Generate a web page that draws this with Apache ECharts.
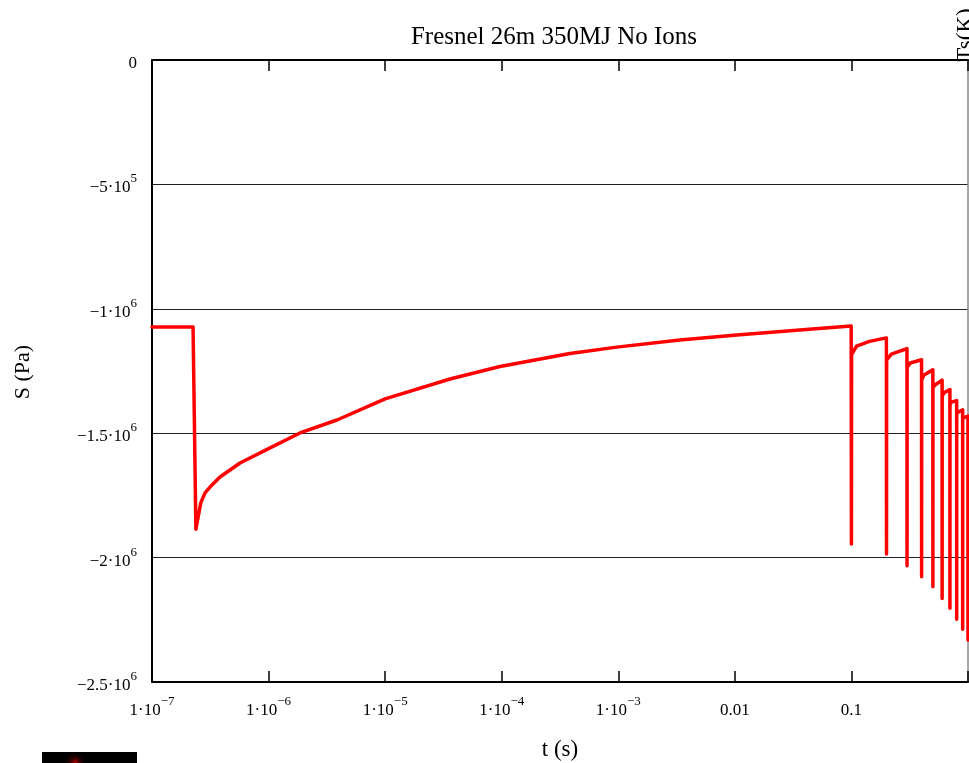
<!DOCTYPE html>
<html>
<head>
<meta charset="utf-8">
<title>Fresnel 26m 350MJ No Ions</title>
<script src="https://cdn.jsdelivr.net/npm/echarts@6/dist/echarts.min.js"></script>
<style>
  html, body { margin: 0; padding: 0; background: #ffffff; overflow: hidden; }
  #chart { width: 969px; height: 763px; }
</style>
</head>
<body>
<div id="chart"></div>
<script>
// Surface stress S (Pa) versus time t (s), log time axis.
const timeS = [
  1e-7, 2.25e-7, 2.38e-7, 2.62e-7, 2.85e-7, 3.27e-7, 3.83e-7, 5.69e-7,
  1.03e-6, 1.86e-6, 3.86e-6, 1.0e-5, 3.6e-5, 9.66e-5, 3.85e-4, 9.7e-4,
  3.37e-3, 0.0104, 0.036, 0.0995,
  0.1, 0.1, 0.1003, 0.1107, 0.1427, 0.1995,
  0.2, 0.2, 0.2005, 0.22, 0.2995,
  0.3, 0.3, 0.3005, 0.32, 0.3995,
  0.4, 0.4, 0.4005, 0.42, 0.4995,
  0.5, 0.5, 0.5005, 0.52, 0.5995,
  0.6, 0.6, 0.6005, 0.62, 0.6995,
  0.7, 0.7, 0.7005, 0.72, 0.7995,
  0.8, 0.8, 0.8005, 0.82, 0.8995,
  0.9, 0.9, 0.9005, 0.9995,
  1.0, 1.0
];
const stressPa = [
  -1.073e6, -1.073e6, -1.886e6, -1.780e6, -1.740e6, -1.708e6, -1.676e6, -1.620e6,
  -1.559e6, -1.499e6, -1.447e6, -1.362e6, -1.282e6, -1.232e6, -1.180e6, -1.154e6,
  -1.125e6, -1.105e6, -1.085e6, -1.069e6,
  -1.069e6, -1.945e6, -1.184e6, -1.150e6, -1.131e6, -1.117e6,
  -1.117e6, -1.986e6, -1.205e6, -1.182e6, -1.160e6,
  -1.160e6, -2.033e6, -1.235e6, -1.218e6, -1.205e6,
  -1.205e6, -2.077e6, -1.285e6, -1.266e6, -1.245e6,
  -1.245e6, -2.117e6, -1.318e6, -1.306e6, -1.287e6,
  -1.287e6, -2.164e6, -1.352e6, -1.338e6, -1.325e6,
  -1.325e6, -2.204e6, -1.385e6, -1.375e6, -1.369e6,
  -1.369e6, -2.248e6, -1.419e6, -1.411e6, -1.406e6,
  -1.406e6, -2.288e6, -1.439e6, -1.431e6,
  -1.431e6, -2.331e6
];

// Tick label text as [mantissa, exponent] pairs.
const xTickText = [
  ['1·10', '−7'], ['1·10', '−6'], ['1·10', '−5'], ['1·10', '−4'],
  ['1·10', '−3'], ['0.01', ''], ['0.1', ''], ['', '']
];
const yTickText = [
  ['−2.5·10', '6'], ['−2·10', '6'], ['−1.5·10', '6'],
  ['−1·10', '6'], ['−5·10', '5'], ['0', '']
];

const SERIF = '"Liberation Serif", "Times New Roman", serif';

function richLabel(pair) {
  if (!pair || !pair[0]) return '';
  return pair[1] ? '{m|' + pair[0] + '}{e|' + pair[1] + '}' : '{m|' + pair[0] + '}';
}

const rich = {
  m: { fontFamily: SERIF, fontSize: 17, color: '#000', lineHeight: 24, verticalAlign: 'bottom' },
  e: { fontFamily: SERIF, fontSize: 13, color: '#000', lineHeight: 12, verticalAlign: 'top' }
};

const chart = echarts.init(document.getElementById('chart'), null, { renderer: 'canvas', width: 969, height: 763 });

const xCommon = {
  type: 'log',
  logBase: 10,
  min: 1e-7,
  max: 1,
  splitLine: { show: false },
  axisLine: { show: true, onZero: false, lineStyle: { color: '#000', width: 2 } },
  axisTick: { show: true, inside: true, length: 11, lineStyle: { color: '#000', width: 1.5 } }
};

chart.setOption({
  backgroundColor: '#ffffff',
  animation: false,
  title: {
    text: 'Fresnel 26m 350MJ No Ions',
    left: 549,
    top: 20,
    textAlign: 'center',
    textStyle: { fontFamily: SERIF, fontSize: 25, fontWeight: 'normal', color: '#000' }
  },
  grid: { left: 152, top: 60, right: 1, bottom: 81, containLabel: false, outerBoundsMode: 'none' },
  xAxis: [
    Object.assign({}, xCommon, {
      position: 'bottom',
      axisLabel: {
        margin: 13,
        verticalAlign: 'top',
        formatter: function (v) {
          const i = Math.round(Math.log10(v)) + 7;
          return richLabel(xTickText[i]);
        },
        rich: rich
      }
    }),
    Object.assign({}, xCommon, {
      position: 'top',
      axisLabel: { show: false }
    })
  ],
  yAxis: [
    {
      type: 'value',
      min: -2.5e6,
      max: 0,
      interval: 5e5,
      position: 'left',
      axisLine: { show: true, onZero: false, lineStyle: { color: '#000', width: 2 } },
      axisTick: { show: false },
      splitLine: { show: true, lineStyle: { color: '#222', width: 1 } },
      axisLabel: {
        margin: 15,
        formatter: function (v) {
          const i = Math.round((v + 2.5e6) / 5e5);
          return richLabel(yTickText[i]);
        },
        rich: rich
      }
    },
    {
      type: 'value',
      min: -2.5e6,
      max: 0,
      interval: 5e5,
      position: 'right',
      axisLine: { show: true, onZero: false, lineStyle: { color: '#888', width: 1.5 } },
      axisTick: { show: false },
      axisLabel: { show: false },
      splitLine: { show: false }
    }
  ],
  series: [
    {
      type: 'line',
      xAxisIndex: 0,
      yAxisIndex: 0,
      data: timeS.map(function (t, i) { return [t, stressPa[i]]; }),
      showSymbol: false,
      symbol: 'none',
      smooth: false,
      clip: true,
      lineStyle: { color: '#ff0000', width: 3.5, join: 'round', cap: 'round' },
      z: 3
    }
  ],
  graphic: [
    {
      type: 'text',
      x: 23, y: 372, rotation: Math.PI / 2,
      style: { text: 'S (Pa)', font: '22px ' + SERIF, fill: '#000', align: 'center', verticalAlign: 'middle' }
    },
    {
      type: 'text',
      x: 560, y: 750,
      style: { text: 't (s)', font: '23px ' + SERIF, fill: '#000', align: 'center', verticalAlign: 'middle' }
    },
    {
      type: 'text',
      x: 966, y: 35, rotation: Math.PI / 2,
      style: { text: 'Ts(K)', font: '23px ' + SERIF, fill: '#000', align: 'center', verticalAlign: 'middle' }
    },
    {
      type: 'rect',
      shape: { x: 42, y: 752, width: 95, height: 11 },
      style: {
        fill: new echarts.graphic.RadialGradient(0.35, 1.0, 0.9, [
          { offset: 0, color: '#b00000' },
          { offset: 0.5, color: '#300000' },
          { offset: 1, color: '#000000' }
        ])
      }
    }
  ]
});
</script>
</body>
</html>
